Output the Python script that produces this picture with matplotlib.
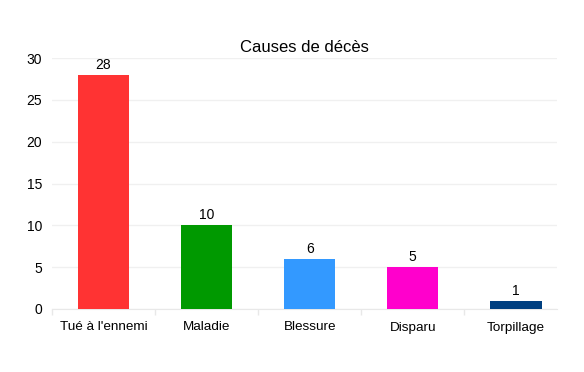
import matplotlib
matplotlib.use("Agg")
import matplotlib.pyplot as plt
import numpy as np

categories = ["Tué à l'ennemi", "Maladie", "Blessure", "Disparu", "Torpillage"]
values = [28, 10, 6, 5, 1]
colors = ["#FF3333", "#009900", "#3399FF", "#FF00CC", "#003F80"]
title = "Causes de décès"

plt.rcParams['font.family'] = ['Liberation Sans', 'DejaVu Sans']

fig = plt.figure(figsize=(5.84, 3.72), dpi=100)
ax = fig.add_axes([52/584, (372-309)/372, (557-52)/584, (309-58)/372])

x = np.arange(len(categories))
bars = ax.bar(x, values, width=0.5, color=colors, zorder=3)
for xi, v in zip(x, values):
    ax.text(xi, v + 0.35, str(v), ha='center', va='bottom', fontsize=10, color='black')

ax.set_xlim(-0.5, len(categories) - 0.6)
ax.set_ylim(0, 30)
ax.set_yticks([0, 5, 10, 15, 20, 25, 30])
ax.tick_params(axis='y', length=0, labelsize=10, pad=7)
ax.set_xticks(x)
ax.set_xticklabels(categories, fontsize=9.7)
ax.tick_params(axis='x', length=0, pad=9)
ax.set_xticks(np.arange(-0.5, len(categories) - 1), minor=True)
ax.tick_params(axis='x', which='minor', length=4, color='#E8E8E8', width=1)
ax.yaxis.grid(True, color='#F0F0F0', linewidth=1, zorder=0)
for s in ['top', 'right', 'left']:
    ax.spines[s].set_visible(False)
ax.spines['bottom'].set_color('#E8E8E8')
ax.set_title(title, fontsize=12, pad=4)

fig.savefig("out.png", dpi=100, facecolor='white')
